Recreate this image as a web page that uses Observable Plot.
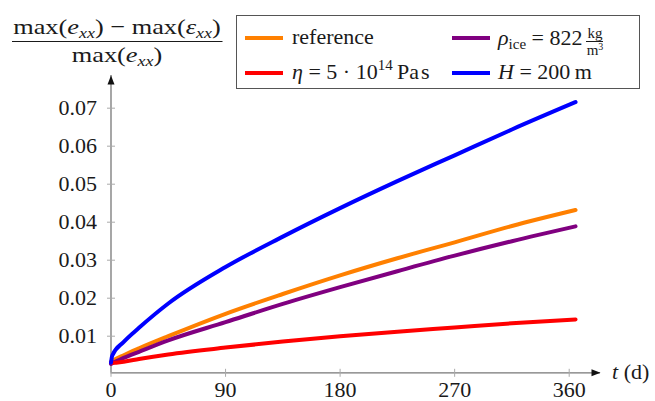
<!DOCTYPE html>
<html><head><meta charset="utf-8">
<script src="https://cdn.jsdelivr.net/npm/d3@7"></script>
<script src="https://cdn.jsdelivr.net/npm/@observablehq/plot@0.6"></script>
<style>
body{margin:0;background:#fff;}
#wrap{position:relative;width:655px;height:401px;font-family:"Liberation Serif","DejaVu Serif","Times New Roman",serif;color:#1a1a1a;overflow:hidden;}
#chart{position:absolute;left:0;top:0;}
.i{font-style:italic;}
sub.s{font-size:15px;vertical-align:-4px;line-height:0;}
sup.s{font-size:15px;vertical-align:9px;line-height:0;}
#ytitle{position:absolute;left:12px;top:16px;display:inline-flex;flex-direction:column;align-items:center;font-size:22px;line-height:22px;transform-origin:0 0;white-space:nowrap;}
#ytitle .num{padding:0 1px 3px;border-bottom:1.3px solid #1a1a1a;}
#ytitle .den{padding-top:2px;}
.op{margin:0 0.25em;}
#legend{position:absolute;left:236px;top:15px;width:404px;height:74px;border:1.3px solid #555;box-sizing:border-box;font-size:22px;}
.sw{position:absolute;width:38px;height:4px;}
.lt{position:absolute;line-height:22px;white-space:nowrap;}
.frac{display:inline-flex;flex-direction:column;align-items:center;font-size:15px;line-height:14px;vertical-align:7px;margin-left:4px;}
.frac .t{border-bottom:1px solid #1a1a1a;padding:0 1px 1px;}
.frac .b{padding-top:1px;}
.frac sup{font-size:10px;vertical-align:5px;line-height:0;}
#xlabel{position:absolute;left:612px;top:361px;font-size:22px;line-height:22px;white-space:nowrap;}
</style></head><body>
<div id="wrap">
<div id="chart"></div>
<div id="ytitle">
  <div class="num">max(<span class="i">e</span><sub class="s i">xx</sub>)<span class="op">−</span>max(<span class="i">ε</span><sub class="s i">xx</sub>)</div>
  <div class="den">max(<span class="i">e</span><sub class="s i">xx</sub>)</div>
</div>
<div id="legend">
  <div class="sw" style="left:8px;top:20px;background:#ff8000"></div>
  <div class="lt" style="left:55px;top:10px">reference</div>
  <div class="sw" style="left:215px;top:20px;background:#800080"></div>
  <div class="lt" style="left:261px;top:10px"><span class="i">ρ</span><sub class="s">ice</sub><span class="op">=</span>822<span class="frac"><span class="t">kg</span><span class="b">m<sup>3</sup></span></span></div>
  <div class="sw" style="left:8px;top:55px;background:#ff0000"></div>
  <div class="lt" style="left:55px;top:45px"><span class="i">η</span><span class="op">=</span>5<span class="op">·</span>10<sup class="s">14</sup>&#8201;Pa&#8202;s</div>
  <div class="sw" style="left:215px;top:55px;background:#0000ff"></div>
  <div class="lt" style="left:261px;top:45px"><span class="i">H</span><span class="op">=</span>200&#8201;m</div>
</div>
<div id="xlabel"><span class="i">t</span> (d)</div>
</div>
<script>
// time (days)
const days = [0, 1, 10, 22, 45, 90, 135, 180, 225, 270, 315, 365];
// series values
const reference = [0.0033, 0.0035, 0.0050, 0.0068, 0.0100, 0.0159, 0.0211, 0.0260, 0.0305, 0.0347, 0.0390, 0.0432];
const rhoIce    = [0.0027, 0.0029, 0.0043, 0.0059, 0.0089, 0.0137, 0.0185, 0.0229, 0.0271, 0.0312, 0.0350, 0.0389];
const eta       = [0.0030, 0.0030, 0.0033, 0.0040, 0.0052, 0.0070, 0.0086, 0.0100, 0.0112, 0.0123, 0.0134, 0.0144];
const heightH   = [0.0030, 0.0049, 0.0085, 0.0122, 0.0186, 0.0282, 0.0362, 0.0437, 0.0508, 0.0576, 0.0644, 0.0716];
const seriesKeys = ["reference", "rhoIce", "eta", "H"];
const seriesColors = ["#ff8000", "#800080", "#ff0000", "#0000ff"];
// ticks
const xTicks = [0, 90, 180, 270, 360];
const xTickLabels = ["0", "90", "180", "270", "360"];
const yTicks = [0.01, 0.02, 0.03, 0.04, 0.05, 0.06, 0.07];
const yTickLabels = ["0.01", "0.02", "0.03", "0.04", "0.05", "0.06", "0.07"];
// axis extents
const xMax = 384.6;
const yMin = 0.00037;
const yMax = 0.0786;

const valuesBySeries = [reference, rhoIce, eta, heightH];
const rows = seriesKeys.flatMap((k, si) => days.map((t, i) => ({series: k, t, v: valuesBySeries[si][i]})));

const hTick = {draw(ctx) { ctx.moveTo(-4, 0); ctx.lineTo(4, 0); }};
const vTick = {draw(ctx) { ctx.moveTo(0, -4); ctx.lineTo(0, 4); }};
const upArrow = {draw(ctx) { ctx.moveTo(0, 0); ctx.lineTo(-3.5, 9); ctx.lineTo(3.5, 9); ctx.closePath(); }};
const rightArrow = {draw(ctx) { ctx.moveTo(0, 0); ctx.lineTo(-9, -3.5); ctx.lineTo(-9, 3.5); ctx.closePath(); }};

const xLab = new Map(xTicks.map((d, i) => [d, xTickLabels[i]]));
const yLab = new Map(yTicks.map((d, i) => [d, yTickLabels[i]]));
const font = "'Liberation Serif', 'DejaVu Serif', 'Times New Roman', serif";

const chart = Plot.plot({
  width: 655, height: 401,
  marginLeft: 110.5, marginRight: 55, marginTop: 75, marginBottom: 28.7,
  x: {domain: [0, xMax]},
  y: {domain: [yMin, yMax]},
  color: {domain: seriesKeys, range: seriesColors},
  style: {fontFamily: font, fontSize: "22px", color: "#1a1a1a", background: "transparent"},
  marks: [
    Plot.ruleY([yMin], {x1: 0, x2: xMax, stroke: "#777", strokeWidth: 1.3}),
    Plot.ruleX([0], {y1: yMin, y2: yMax, stroke: "#777", strokeWidth: 1.3}),
    Plot.dot(yTicks, {x: 0, y: d => d, symbol: hTick, stroke: "#aaa", fill: "none", strokeWidth: 1}),
    Plot.dot(xTicks, {x: d => d, y: yMin, symbol: vTick, stroke: "#aaa", fill: "none", strokeWidth: 1}),
    Plot.axisY(yTicks, {tickSize: 0, tickPadding: 14, tickFormat: d => yLab.get(d), fontSize: 22, label: null}),
    Plot.axisX(xTicks, {tickSize: 0, tickPadding: 9, tickFormat: d => xLab.get(d), fontSize: 22, label: null}),
    Plot.line(rows, {x: "t", y: "v", z: "series", stroke: "series", strokeWidth: 4, curve: "monotone-x"}),
    Plot.dot([yMax], {x: 0, y: d => d, symbol: upArrow, fill: "#111", stroke: "none"}),
    Plot.dot([xMax], {x: d => d, y: yMin, symbol: rightArrow, fill: "#111", stroke: "none"})
  ]
});
document.getElementById("chart").appendChild(chart);

// stretch title fraction to the reference width
const yt = document.getElementById("ytitle");
const w = yt.getBoundingClientRect().width;
yt.style.transform = `scaleX(${210 / w})`;
</script>
</body></html>
